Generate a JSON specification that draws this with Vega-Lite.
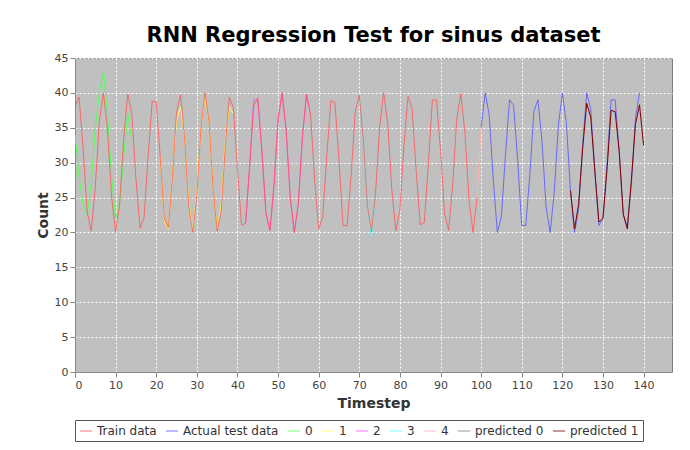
{
  "$schema": "https://vega.github.io/schema/vega-lite/v6.json",
  "width": 597,
  "height": 314,
  "autosize": "none",
  "padding": {"left": 75, "top": 58, "right": 18, "bottom": 78},
  "background": "white",
  "title": {"text": "RNN Regression Test for sinus dataset", "fontSize": 21, "font": "DejaVu Sans", "fontWeight": "bold", "color": "black", "offset": 6},
  "config": {"view": {"fill": "#c0c0c0", "stroke": "#808080"}},
  "data": {"values": [
    {"s":"Train data","t":0,"v":38},{"s":"Train data","t":1,"v":39.4},{"s":"Train data","t":2,"v":32.1},{"s":"Train data","t":3,"v":22.9},{"s":"Train data","t":4,"v":20.2},{"s":"Train data","t":5,"v":26.5},{"s":"Train data","t":6,"v":36},{"s":"Train data","t":7,"v":40},{"s":"Train data","t":8,"v":34.7},{"s":"Train data","t":9,"v":25.2},
    {"s":"Train data","t":10,"v":20},{"s":"Train data","t":11,"v":24.1},{"s":"Train data","t":12,"v":33.6},{"s":"Train data","t":13,"v":39.8},{"s":"Train data","t":14,"v":37},{"s":"Train data","t":15,"v":27.8},{"s":"Train data","t":16,"v":20.6},{"s":"Train data","t":17,"v":22.1},{"s":"Train data","t":18,"v":30.8},{"s":"Train data","t":19,"v":38.8},
    {"s":"Train data","t":20,"v":38.7},{"s":"Train data","t":21,"v":30.6},{"s":"Train data","t":22,"v":21.9},{"s":"Train data","t":23,"v":20.7},{"s":"Train data","t":24,"v":28},{"s":"Train data","t":25,"v":37.2},{"s":"Train data","t":26,"v":39.7},{"s":"Train data","t":27,"v":33.4},{"s":"Train data","t":28,"v":23.9},{"s":"Train data","t":29,"v":20},
    {"s":"Train data","t":30,"v":25.3},{"s":"Train data","t":31,"v":34.9},{"s":"Train data","t":32,"v":40},{"s":"Train data","t":33,"v":35.9},{"s":"Train data","t":34,"v":26.4},{"s":"Train data","t":35,"v":20.2},{"s":"Train data","t":36,"v":23.1},{"s":"Train data","t":37,"v":32.3},{"s":"Train data","t":38,"v":39.4},{"s":"Train data","t":39,"v":37.9},
    {"s":"Train data","t":40,"v":29.1},{"s":"Train data","t":41,"v":21.1},{"s":"Train data","t":42,"v":21.3},{"s":"Train data","t":43,"v":29.5},{"s":"Train data","t":44,"v":38.1},{"s":"Train data","t":45,"v":39.3},{"s":"Train data","t":46,"v":31.9},{"s":"Train data","t":47,"v":22.8},{"s":"Train data","t":48,"v":20.3},{"s":"Train data","t":49,"v":26.7},
    {"s":"Train data","t":50,"v":36.2},{"s":"Train data","t":51,"v":40},{"s":"Train data","t":52,"v":34.6},{"s":"Train data","t":53,"v":25},{"s":"Train data","t":54,"v":20},{"s":"Train data","t":55,"v":24.2},{"s":"Train data","t":56,"v":33.7},{"s":"Train data","t":57,"v":39.8},{"s":"Train data","t":58,"v":36.9},{"s":"Train data","t":59,"v":27.6},
    {"s":"Train data","t":60,"v":20.5},{"s":"Train data","t":61,"v":22.2},{"s":"Train data","t":62,"v":31},{"s":"Train data","t":63,"v":38.9},{"s":"Train data","t":64,"v":38.6},{"s":"Train data","t":65,"v":30.4},{"s":"Train data","t":66,"v":21},{"s":"Train data","t":67,"v":21},{"s":"Train data","t":68,"v":28.2},{"s":"Train data","t":69,"v":37.3},
    {"s":"Train data","t":70,"v":39.7},{"s":"Train data","t":71,"v":33.2},{"s":"Train data","t":72,"v":23.8},{"s":"Train data","t":73,"v":20.1},{"s":"Train data","t":74,"v":25.5},{"s":"Train data","t":75,"v":35.1},{"s":"Train data","t":76,"v":40},{"s":"Train data","t":77,"v":35.7},{"s":"Train data","t":78,"v":26.2},{"s":"Train data","t":79,"v":20.2},
    {"s":"Train data","t":80,"v":23.2},{"s":"Train data","t":81,"v":32.5},{"s":"Train data","t":82,"v":39.5},{"s":"Train data","t":83,"v":37.8},{"s":"Train data","t":84,"v":28.9},{"s":"Train data","t":85,"v":21.1},{"s":"Train data","t":86,"v":21.4},{"s":"Train data","t":87,"v":29.7},{"s":"Train data","t":88,"v":39},{"s":"Train data","t":89,"v":39},
    {"s":"Train data","t":90,"v":31.8},{"s":"Train data","t":91,"v":22.7},{"s":"Train data","t":92,"v":20.3},{"s":"Train data","t":93,"v":26.9},{"s":"Train data","t":94,"v":36.3},{"s":"Train data","t":95,"v":39.9},{"s":"Train data","t":96,"v":34.4},{"s":"Train data","t":97,"v":24.8},{"s":"Train data","t":98,"v":20},{"s":"Train data","t":99,"v":25},
    {"s":"Actual test data","t":100,"v":35},{"s":"Actual test data","t":101,"v":40},{"s":"Actual test data","t":102,"v":36.8},{"s":"Actual test data","t":103,"v":27.5},{"s":"Actual test data","t":104,"v":20},{"s":"Actual test data","t":105,"v":22.3},{"s":"Actual test data","t":106,"v":31.2},{"s":"Actual test data","t":107,"v":39},{"s":"Actual test data","t":108,"v":38.2},{"s":"Actual test data","t":109,"v":30.3},
    {"s":"Actual test data","t":110,"v":21},{"s":"Actual test data","t":111,"v":21},{"s":"Actual test data","t":112,"v":28.3},{"s":"Actual test data","t":113,"v":37.4},{"s":"Actual test data","t":114,"v":39},{"s":"Actual test data","t":115,"v":33},{"s":"Actual test data","t":116,"v":23.6},{"s":"Actual test data","t":117,"v":20},{"s":"Actual test data","t":118,"v":25.7},{"s":"Actual test data","t":119,"v":35.2},
    {"s":"Actual test data","t":120,"v":40},{"s":"Actual test data","t":121,"v":35.6},{"s":"Actual test data","t":122,"v":26},{"s":"Actual test data","t":123,"v":20},{"s":"Actual test data","t":124,"v":23.3},{"s":"Actual test data","t":125,"v":32.6},{"s":"Actual test data","t":126,"v":40},{"s":"Actual test data","t":127,"v":37.7},{"s":"Actual test data","t":128,"v":28.8},{"s":"Actual test data","t":129,"v":21},
    {"s":"Actual test data","t":130,"v":22},{"s":"Actual test data","t":131,"v":29.8},{"s":"Actual test data","t":132,"v":39},{"s":"Actual test data","t":133,"v":39},{"s":"Actual test data","t":134,"v":31.6},{"s":"Actual test data","t":135,"v":22.6},{"s":"Actual test data","t":136,"v":20.8},{"s":"Actual test data","t":137,"v":27},{"s":"Actual test data","t":138,"v":36.4},{"s":"Actual test data","t":139,"v":40},
    {"s":"0","t":0,"v":34},{"s":"0","t":1,"v":28},{"s":"0","t":2,"v":24},{"s":"0","t":3,"v":22.5},{"s":"0","t":4,"v":27},{"s":"0","t":5,"v":35},{"s":"0","t":6,"v":40},{"s":"0","t":7,"v":43},{"s":"0","t":8,"v":37},{"s":"0","t":9,"v":28},{"s":"0","t":10,"v":22},{"s":"0","t":11,"v":24},{"s":"0","t":12,"v":31},{"s":"0","t":13,"v":37},{"s":"0","t":14,"v":33},
    {"s":"1","t":21,"v":30.6},{"s":"1","t":22,"v":21.5},{"s":"1","t":23,"v":20.5},{"s":"1","t":24,"v":28.5},{"s":"1","t":25,"v":36},{"s":"1","t":26,"v":38},{"s":"1","t":27,"v":33.4},{"s":"1","t":28,"v":24.5},{"s":"1","t":29,"v":20.3},{"s":"1","t":30,"v":25.8},{"s":"1","t":31,"v":34.9},{"s":"1","t":32,"v":39.5},{"s":"1","t":33,"v":35.9},{"s":"1","t":34,"v":26.4},{"s":"1","t":35,"v":20.5},{"s":"1","t":36,"v":24},{"s":"1","t":37,"v":33},{"s":"1","t":38,"v":38},{"s":"1","t":39,"v":37},
    {"s":"2","t":42,"v":21.3},{"s":"2","t":43,"v":29.5},{"s":"2","t":44,"v":39},{"s":"2","t":45,"v":39},{"s":"2","t":46,"v":31.9},{"s":"2","t":47,"v":22.8},{"s":"2","t":48,"v":20.3},{"s":"2","t":49,"v":26.7},{"s":"2","t":50,"v":36.2},{"s":"2","t":51,"v":40},{"s":"2","t":52,"v":34.6},{"s":"2","t":53,"v":25},{"s":"2","t":54,"v":20},{"s":"2","t":55,"v":24.2},{"s":"2","t":56,"v":33.7},{"s":"2","t":57,"v":39.8},{"s":"2","t":58,"v":36.9},
    {"s":"3","t":70,"v":39.7},{"s":"3","t":71,"v":33.2},{"s":"3","t":72,"v":23.8},{"s":"3","t":73,"v":19.4},{"s":"3","t":74,"v":25.5},
    {"s":"4","t":96,"v":34.4},{"s":"4","t":97,"v":24.8},{"s":"4","t":98,"v":20},{"s":"4","t":99,"v":25},{"s":"4","t":100,"v":35},
    {"s":"predicted 1","t":122,"v":26},{"s":"predicted 1","t":123,"v":20.5},{"s":"predicted 1","t":124,"v":24},{"s":"predicted 1","t":125,"v":32},{"s":"predicted 1","t":126,"v":38.5},{"s":"predicted 1","t":127,"v":36.5},{"s":"predicted 1","t":128,"v":28.8},{"s":"predicted 1","t":129,"v":21.5},{"s":"predicted 1","t":130,"v":22},{"s":"predicted 1","t":131,"v":29},{"s":"predicted 1","t":132,"v":37.5},{"s":"predicted 1","t":133,"v":37.3},{"s":"predicted 1","t":134,"v":31.6},{"s":"predicted 1","t":135,"v":22.6},{"s":"predicted 1","t":136,"v":20.5},{"s":"predicted 1","t":137,"v":27.5},{"s":"predicted 1","t":138,"v":35.5},{"s":"predicted 1","t":139,"v":38.3},{"s":"predicted 1","t":140,"v":32.5}
  ]},
  "encoding": {
    "x": {"field": "t", "type": "quantitative", "title": "Timestep",
      "scale": {"domain": [0, 147], "nice": false},
      "axis": {"values": [0,10,20,30,40,50,60,70,80,90,100,110,120,130,140], "gridColor": "white", "gridDash": [2,2], "gridOpacity": 1, "labelFont": "DejaVu Sans", "labelFontSize": 11, "labelColor": "#444", "titleFont": "DejaVu Sans", "titleFontSize": 14, "titleColor": "#333", "tickColor": "#888", "domainColor": "#888", "titlePadding": 6}},
    "y": {"field": "v", "type": "quantitative", "title": "Count",
      "scale": {"domain": [0, 45], "nice": false},
      "axis": {"values": [0,5,10,15,20,25,30,35,40,45], "gridColor": "white", "gridDash": [2,2], "gridOpacity": 1, "labelFont": "DejaVu Sans", "labelFontSize": 11, "labelColor": "#444", "titleFont": "DejaVu Sans", "titleFontSize": 14, "titleColor": "#333", "tickColor": "#888", "domainColor": "#888"}},
    "color": {"field": "s", "type": "nominal", "title": null,
      "scale": {"domain": ["Train data","Actual test data","0","1","2","3","4","predicted 0","predicted 1"],
        "range": ["#ff5555","#5555ff","#55ff55","#ffff55","#ff55ff","#55ffff","#ffafaf","#808080","#800000"]},
      "legend": {"orient": "bottom", "direction": "horizontal", "columns": 9, "symbolType": "stroke", "symbolSize": 150, "symbolStrokeWidth": 1, "labelFont": "DejaVu Sans", "labelFontSize": 12, "labelColor": "#333", "columnPadding": 6, "strokeColor": "#555", "padding": 4, "offset": 10}}
  },
  "layer": [
    {"transform": [{"filter": "datum.s != 'Train data' && datum.s != 'Actual test data' && datum.s != 'predicted 1'"}],
     "mark": {"type": "line", "strokeWidth": 1, "clip": true}},
    {"transform": [{"filter": "datum.s == 'Train data' || datum.s == 'Actual test data'"}],
     "mark": {"type": "line", "strokeWidth": 1, "clip": true, "opacity": 0.8}},
    {"transform": [{"filter": "datum.s == 'predicted 1'"}],
     "mark": {"type": "line", "strokeWidth": 1, "clip": true}}
  ]
}
